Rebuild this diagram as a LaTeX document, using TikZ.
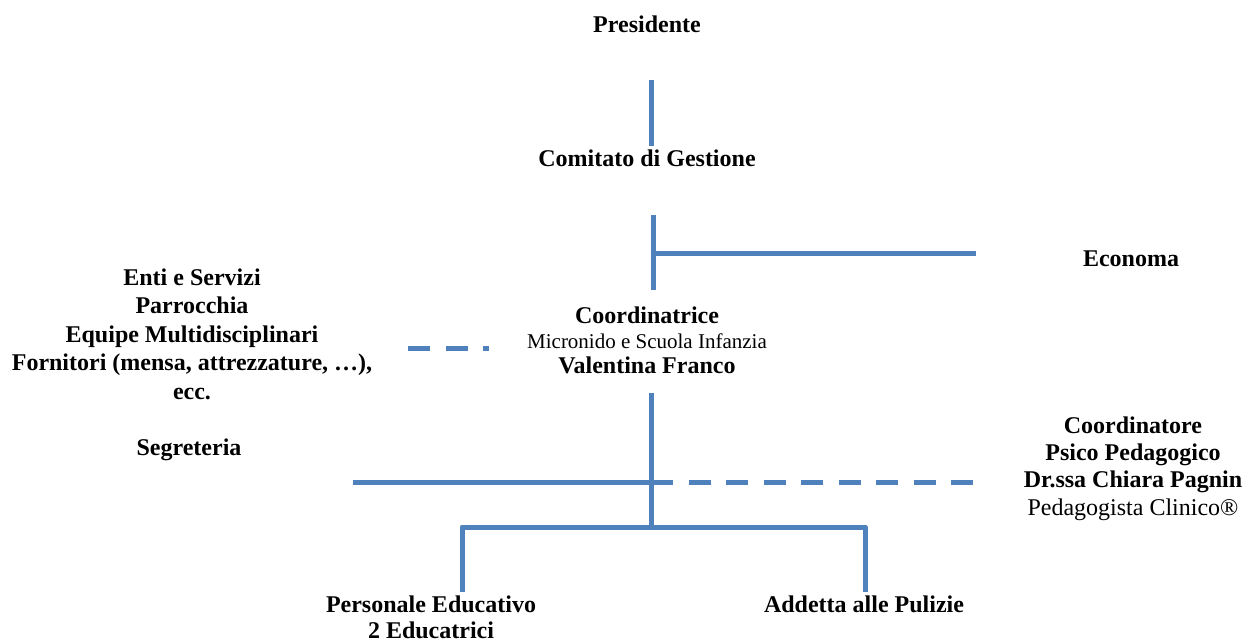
\documentclass[tikz,border=0pt]{standalone}
\usepackage{fontspec}
\setmainfont{Liberation Serif}
\definecolor{linecol}{HTML}{4F81BD}
\newcommand\orglines[2]{%
  \draw[#1] (p1) -- (c1);
  \draw[#1] (c2) -- (k2);
  \draw[#1] (j2) -- (e1);
  \draw[#2] (d1) -- (d2);
  \draw[#1] (k3) -- (j4);
  \draw[#1] (s1) -- (j3);
  \draw[#2] (j3) -- (q1);
  \draw[#1] (b1) -- (b1 |- j4) -- (b2 |- j4) -- (b2);
}
\begin{document}
\begin{tikzpicture}[x=1pt,y=-1pt,
  lbl/.style={inner sep=0pt, anchor=base, align=center, font=\fontsize{24}{28}\selectfont\bfseries},
  conn/.style={line width=5pt, draw=linecol, line join=round},
  dashconn/.style={conn, dash pattern=on 22pt off 15.5pt},
  shade/.style={line width=5pt, draw=black!16, line join=round},
  dashshade/.style={shade, dash pattern=on 22pt off 15.5pt}]
\useasboundingbox (0,0) rectangle (1254,641);

% nodes
\node[lbl] (pres) at (647,32) {Presidente};
\node[lbl] (com) at (647,166) {Comitato di Gestione};
\node[lbl] (eco) at (1131,266) {Economa};
\node[lbl, font=\fontsize{24}{28.5}\selectfont\bfseries] (enti) at (192,399)
  {Enti e Servizi\\Parrocchia\\Equipe Multidisciplinari\\Fornitori (mensa, attrezzature, …),\\ecc.};
\node[lbl] (seg) at (189,455) {Segreteria};
\node[lbl, font=\fontsize{24}{25}\selectfont\bfseries] (coord) at (647,373)
  {Coordinatrice\\{\fontsize{21}{25}\selectfont\mdseries Micronido e Scuola Infanzia}\\Valentina Franco};
\node[lbl, font=\fontsize{24}{27.3}\selectfont\bfseries] (psico) at (1133,515)
  {Coordinatore\\Psico Pedagogico\\Dr.ssa Chiara Pagnin\\{\mdseries Pedagogista Clinico®}};
\node[lbl, font=\fontsize{24}{26}\selectfont\bfseries] (pers) at (431,638)
  {Personale Educativo\\2 Educatrici};
\node[lbl] (add) at (864,612) {Addetta alle Pulizie};

% junction coordinates
\coordinate (p1) at (651,80);
\coordinate (c1) at (651,146);
\coordinate (c2) at (653,215);
\coordinate (k2) at (653,290);
\coordinate (j2) at (653,253);
\coordinate (e1) at (976,253);
\coordinate (d1) at (408,348);
\coordinate (d2) at (489,348);
\coordinate (k3) at (651,393);
\coordinate (j3) at (651,482);
\coordinate (j4) at (651,527);
\coordinate (s1) at (353,482);
\coordinate (q1) at (975,482);
\coordinate (b1) at (462,592);
\coordinate (b2) at (865,592);

% connectors: soft shadow first, then the blue lines
\begin{scope}[shift={(1.5,2.5)}]
  \orglines{shade}{dashshade}
\end{scope}
\orglines{conn}{dashconn}
\end{tikzpicture}
\end{document}
